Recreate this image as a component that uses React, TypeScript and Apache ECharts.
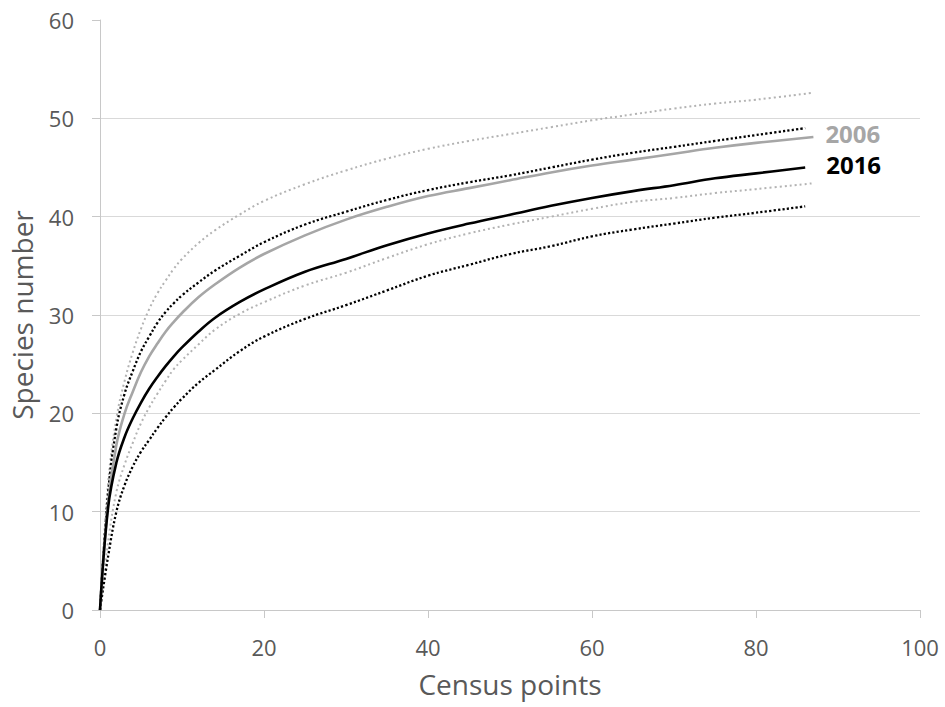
import React, { useEffect, useRef } from "react";
import * as echarts from "echarts";

// Census point counts at which the rarefaction curves were read
const censusPoints2006 = [0, 1, 2, 3, 4, 5, 6, 7, 8, 9, 10, 12, 14, 17, 20, 25, 30, 35, 40, 45, 50, 55, 60, 65, 70, 75, 80, 87];
const censusPoints2016 = [0, 1, 2, 3, 4, 5, 6, 7, 8, 9, 10, 12, 14, 17, 20, 25, 30, 35, 40, 45, 50, 55, 60, 65, 70, 75, 80, 86];

// 2006 survey: mean and confidence bounds
const species2006 = [0, 11, 16.8, 20, 22.2, 24.2, 25.8, 27.1, 28.3, 29.3, 30.2, 31.8, 33.1, 34.8, 36.2, 38.1, 39.7, 41.0, 42.1, 42.9, 43.7, 44.5, 45.2, 45.8, 46.4, 47.0, 47.5, 48.1];
const species2006Upper = [0, 13, 19.5, 23.3, 26.2, 28.6, 30.6, 32.2, 33.5, 34.7, 35.7, 37.3, 38.6, 40.2, 41.6, 43.3, 44.7, 45.9, 46.9, 47.7, 48.4, 49.1, 49.8, 50.4, 51.0, 51.5, 51.9, 52.6];
const species2006Lower = [0, 7, 12, 14.8, 17, 19, 20.6, 22, 23.3, 24.5, 25.4, 27, 28.5, 30.1, 31.3, 33.0, 34.3, 35.8, 37.2, 38.3, 39.2, 40.0, 40.8, 41.5, 41.9, 42.4, 42.8, 43.4];

// 2016 survey: mean and confidence bounds
const species2016 = [0, 10.5, 15, 17.6, 19.5, 21.1, 22.5, 23.7, 24.8, 25.8, 26.7, 28.3, 29.7, 31.3, 32.6, 34.4, 35.7, 37.1, 38.3, 39.3, 40.2, 41.1, 41.9, 42.6, 43.2, 43.9, 44.4, 45.0];
const species2016Upper = [0, 12, 18.5, 22, 24.3, 26.3, 27.8, 29.2, 30.3, 31.2, 32.0, 33.3, 34.5, 36.0, 37.4, 39.2, 40.5, 41.7, 42.7, 43.5, 44.2, 45.0, 45.8, 46.5, 47.1, 47.7, 48.3, 49.0];
const species2016Lower = [0, 5.5, 10, 12.7, 14.6, 16.1, 17.3, 18.5, 19.6, 20.6, 21.5, 23.1, 24.4, 26.3, 27.8, 29.6, 31.0, 32.5, 34.0, 35.1, 36.2, 37.0, 38.0, 38.7, 39.3, 39.9, 40.4, 41.05];

const seriesLabels = ["2006", "2016"];

const FONT = "'Open Sans', 'Noto Sans', sans-serif";
const TEXT_COLOR = "#595959";
const GRID_COLOR = "#d9d9d9";
const AXIS_COLOR = "#c8c8c8";
const BLACK = "#000000";
const GRAY = "#a6a6a6";
const LIGHT_GRAY = "#b3b3b3";

const pairs = (xs: number[], ys: number[]) => xs.map((x, i) => [x, ys[i]]);

export default function App() {
  const ref = useRef<HTMLDivElement>(null);

  useEffect(() => {
    if (!ref.current) return;
    const chart = echarts.init(ref.current, undefined, { renderer: "svg" });

    const base = {
      type: "line" as const,
      showSymbol: false,
      symbol: "none",
      smooth: 0.4,
      silent: true,
    };

    chart.setOption({
      animation: false,
      backgroundColor: "#ffffff",
      textStyle: { fontFamily: FONT },
      grid: { left: 100, right: 25, top: 20, bottom: 97, containLabel: false },
      xAxis: {
        type: "value",
        min: 0,
        max: 100,
        interval: 20,
        name: "Census points",
        nameLocation: "middle",
        nameGap: 60,
        nameTextStyle: { fontFamily: FONT, fontSize: 28, color: TEXT_COLOR },
        axisLine: { show: true, lineStyle: { color: AXIS_COLOR, width: 1 } },
        axisTick: { show: true, length: 8, lineStyle: { color: AXIS_COLOR } },
        axisLabel: { fontFamily: FONT, fontSize: 22, color: TEXT_COLOR, margin: 26 },
        splitLine: { show: false },
      },
      yAxis: {
        type: "value",
        min: 0,
        max: 60,
        interval: 10,
        name: "Species number",
        nameLocation: "middle",
        nameGap: 64,
        nameTextStyle: { fontFamily: FONT, fontSize: 28, color: TEXT_COLOR },
        axisLine: { show: true, lineStyle: { color: AXIS_COLOR, width: 1 } },
        axisTick: { show: true, length: 8, lineStyle: { color: AXIS_COLOR } },
        axisLabel: { fontFamily: FONT, fontSize: 22, color: TEXT_COLOR, margin: 26 },
        splitLine: { show: true, showMaxLine: false, lineStyle: { color: GRID_COLOR, width: 1 } },
      },
      series: [
        {
          ...base,
          name: "2006 upper",
          data: pairs(censusPoints2006, species2006Upper),
          lineStyle: { color: LIGHT_GRAY, width: 2, type: [2, 3] },
        },
        {
          ...base,
          name: "2006 lower",
          data: pairs(censusPoints2006, species2006Lower),
          lineStyle: { color: LIGHT_GRAY, width: 2, type: [2, 3] },
        },
        {
          ...base,
          name: "2016 upper",
          data: pairs(censusPoints2016, species2016Upper),
          lineStyle: { color: BLACK, width: 2.3, type: [2.2, 2.2] },
        },
        {
          ...base,
          name: "2016 lower",
          data: pairs(censusPoints2016, species2016Lower),
          lineStyle: { color: BLACK, width: 2.3, type: [2.2, 2.2] },
        },
        {
          ...base,
          name: seriesLabels[0],
          data: pairs(censusPoints2006, species2006),
          lineStyle: { color: GRAY, width: 2.6 },
          endLabel: {
            show: true,
            formatter: seriesLabels[0],
            color: GRAY,
            fontFamily: FONT,
            fontSize: 24,
            fontWeight: "bold",
            distance: 12,
            offset: [0, -4],
          },
        },
        {
          ...base,
          name: seriesLabels[1],
          data: pairs(censusPoints2016, species2016),
          lineStyle: { color: BLACK, width: 2.6 },
          endLabel: {
            show: true,
            formatter: seriesLabels[1],
            color: BLACK,
            fontFamily: FONT,
            fontSize: 24,
            fontWeight: "bold",
            distance: 21,
            offset: [0, -3],
          },
        },
      ],
    });

    return () => chart.dispose();
  }, []);

  return (
    <div
      ref={ref}
      style={{ position: "fixed", left: 0, top: 0, width: 945, height: 707, background: "#fff" }}
    />
  );
}
